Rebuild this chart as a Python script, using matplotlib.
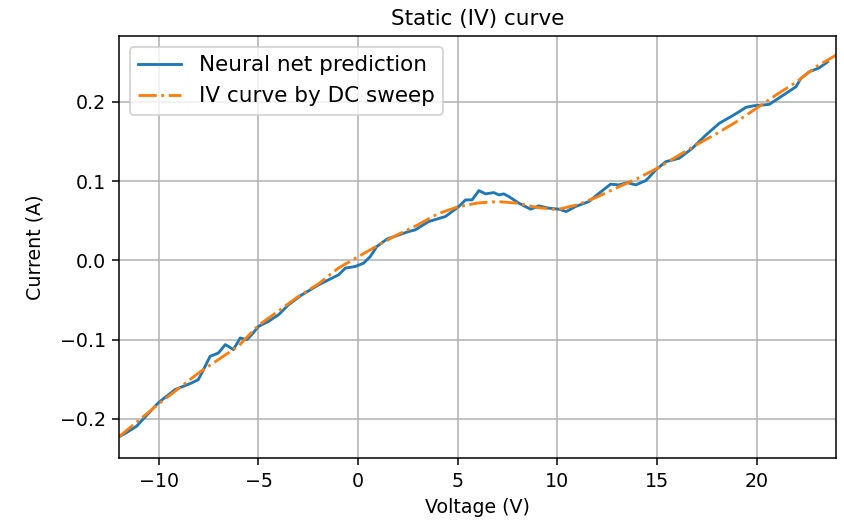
import matplotlib
matplotlib.use("Agg")
import matplotlib.pyplot as plt

# neural net prediction
nn_voltage = [
    -11.93, -11.62, -11.12, -10.03, -9.19, -8.35, -8.02, -7.76, -7.43, -7.01,
    -6.67, -6.51, -6.26, -5.92, -5.59, -5.34, -5.00, -4.50, -3.99, -3.49,
    -2.82, -1.98, -1.48, -0.98, -0.64, -0.14, 0.28, 0.61, 0.94, 1.45,
    2.54, 2.87, 3.54, 4.38, 5.05, 5.39, 5.72, 6.06, 6.39, 6.81,
    7.06, 7.31, 7.56, 8.07, 8.65, 9.07, 9.57, 10.08, 10.44, 10.91,
    11.58, 12.09, 12.67, 13.09, 13.51, 13.93, 14.43, 14.60, 14.93, 15.44,
    16.11, 16.77, 17.45, 18.12, 18.70, 19.12, 19.46, 19.87, 20.29, 20.63,
    20.96, 21.47, 21.97, 22.22, 22.64, 23.14, 23.56,
]
nn_current = [
    -0.2217, -0.2173, -0.2093, -0.1798, -0.1631, -0.1547, -0.1505, -0.1379, -0.1212, -0.1169,
    -0.1064, -0.1086, -0.1127, -0.0980, -0.1001, -0.0938, -0.0834, -0.0770, -0.0686, -0.0560,
    -0.0435, -0.0309, -0.0246, -0.0183, -0.0098, -0.0078, -0.0035, 0.0048, 0.0174, 0.0268,
    0.0363, 0.0384, 0.0489, 0.0552, 0.0678, 0.0762, 0.0762, 0.0879, 0.0838, 0.0854,
    0.0825, 0.0838, 0.0804, 0.0720, 0.0645, 0.0686, 0.0657, 0.0645, 0.0615, 0.0678,
    0.0741, 0.0846, 0.0960, 0.0951, 0.0980, 0.0951, 0.1005, 0.1048, 0.1140, 0.1244,
    0.1287, 0.1413, 0.1580, 0.1728, 0.1811, 0.1874, 0.1930, 0.1950, 0.1958, 0.1967,
    0.2021, 0.2106, 0.2189, 0.2295, 0.2378, 0.2428, 0.2504,
]

# measured IV curve from the DC sweep
dc_voltage = [
    -12, -10, -8, -6, -5, -4, -3, -2, -1, 0, 1, 2, 3, 4, 5, 6, 7, 8, 9,
    10, 11, 12, 13, 14, 15, 16, 17, 18, 19, 20, 21, 22, 23, 24,
]
dc_current = [
    -0.2225, -0.181, -0.142, -0.108, -0.082, -0.064, -0.0456, -0.030, -0.010, 0.0045,
    0.019, 0.0326, 0.0448, 0.0587, 0.0674, 0.0723, 0.0741, 0.0720, 0.0665,
    0.0640, 0.0700, 0.0799, 0.0918, 0.1030, 0.1160, 0.1310, 0.1460, 0.1600, 0.1750,
    0.1920, 0.2090, 0.2250, 0.2445, 0.2590,
]

DPI = 137
fig, ax = plt.subplots(figsize=(844 / DPI, 521 / DPI), dpi=DPI)
fig.subplots_adjust(left=0.141, right=0.991, top=0.931, bottom=0.120)

ax.plot(nn_voltage, nn_current, color="#1f77b4", lw=1.5, label="Neural net prediction")
ax.plot(dc_voltage, dc_current, color="#ff7f0e", lw=1.5, ls="-.", label="IV curve by DC sweep")

ax.set_xlim(-12, 24)
ax.set_ylim(-0.25, 0.283)
ax.grid(True, color="#b0b0b0", lw=0.8)
ax.set_xlabel("Voltage (V)")
ax.set_ylabel("Current (A)", labelpad=8)
ax.set_title("Static (IV) curve", fontsize=11.3)
ax.legend(loc="upper left", fontsize=11.3)

fig.savefig("out.png", dpi=DPI)
